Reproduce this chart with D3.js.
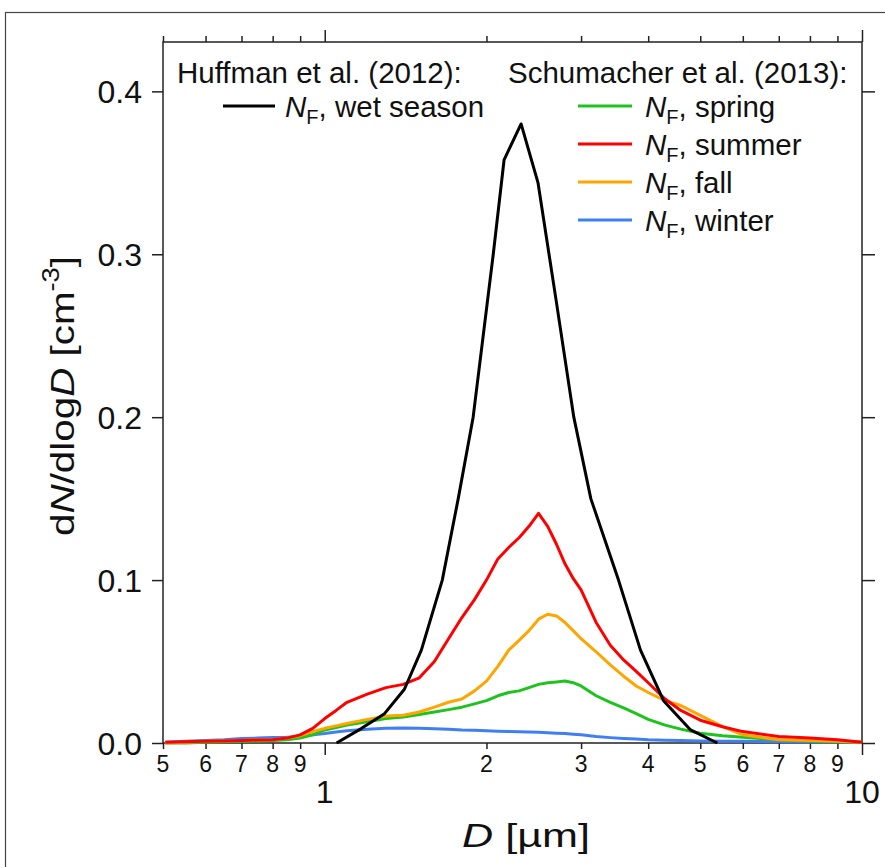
<!DOCTYPE html>
<html><head><meta charset="utf-8">
<script src="https://cdn.jsdelivr.net/npm/d3@7"></script>
<style>
html,body{margin:0;padding:0;background:#fff;}
svg{display:block;font-family:"Liberation Sans",Arial,sans-serif;}
</style></head>
<body>
<svg id="chart" width="885" height="867"></svg>
<script>
// ---------------- DATA ----------------
const seriesNames = ["wet season","spring","summer","fall","winter"];
const seriesColors = ["#000000","#1ec31e","#ff0000","#ffa500","#3f7ff2"];

// Huffman et al. (2012), wet season
const wetD = [1.052,1.171,1.292,1.407,1.513,1.655,1.772,1.889,2.059,2.157,2.320,2.494,2.695,2.908,3.128,3.522,3.870,4.272,4.797,5.38];
const wetN = [0.0,0.009,0.018,0.033,0.057,0.100,0.150,0.200,0.300,0.358,0.380,0.344,0.272,0.200,0.150,0.100,0.057,0.026,0.008,0.0];

// Schumacher et al. (2013)
const sD = [0.505,0.55,0.6,0.65,0.7,0.75,0.8,0.85,0.9,0.95,1.0,1.05,1.1,1.2,1.3,1.4,1.5,1.6,1.7,1.8,1.9,2.0,2.1,2.2,2.3,2.4,2.5,2.6,2.7,2.8,2.9,3.0,3.2,3.4,3.6,3.8,4.0,4.3,4.6,5.0,5.5,6.0,7.0,8.0,9.0,10.0];
const springN = [0.0,0.0,0.0005,0.0008,0.001,0.0012,0.0015,0.002,0.003,0.005,0.008,0.0095,0.011,0.013,0.015,0.016,0.0175,0.019,0.0205,0.022,0.024,0.026,0.029,0.031,0.032,0.034,0.036,0.037,0.0375,0.038,0.037,0.035,0.029,0.025,0.0215,0.018,0.0145,0.011,0.0085,0.006,0.0045,0.0035,0.002,0.0012,0.0008,0.0005];
const summerN = [0.0005,0.0007,0.001,0.0012,0.0015,0.0018,0.002,0.003,0.005,0.009,0.015,0.020,0.025,0.030,0.034,0.036,0.040,0.050,0.064,0.077,0.088,0.100,0.113,0.120,0.126,0.133,0.141,0.133,0.122,0.110,0.101,0.094,0.074,0.060,0.051,0.044,0.037,0.027,0.020,0.014,0.010,0.007,0.004,0.003,0.002,0.0005];
const fallN = [0.0,0.0005,0.001,0.0012,0.0015,0.0018,0.002,0.003,0.0045,0.007,0.009,0.0105,0.012,0.0145,0.0165,0.017,0.019,0.022,0.025,0.027,0.032,0.038,0.047,0.057,0.063,0.069,0.076,0.079,0.078,0.074,0.069,0.064,0.056,0.048,0.041,0.035,0.031,0.026,0.023,0.017,0.010,0.005,0.002,0.0015,0.001,0.0005];
const winterN = [0.0005,0.001,0.0015,0.002,0.0028,0.003,0.0033,0.0035,0.004,0.005,0.0058,0.0068,0.0075,0.0085,0.009,0.0092,0.009,0.0088,0.0085,0.008,0.0078,0.0075,0.0072,0.007,0.0069,0.0068,0.0066,0.0063,0.006,0.0058,0.0054,0.005,0.004,0.0033,0.0028,0.0024,0.002,0.0017,0.0015,0.0012,0.0011,0.001,0.0008,0.0006,0.0006,0.0005];

const yTicks = [0.0,0.1,0.2,0.3,0.4];
const xMinorTicks = [0.5,0.6,0.7,0.8,0.9,2,3,4,5,6,7,8,9];
const xMajorTicks = [1,10];

// ---------------- DRAW ----------------
const svg = d3.select("#chart");
const L=163, R=862, T=42, B=743;
const x = d3.scaleLog().domain([0.5,10]).range([L,R]);
const y = d3.scaleLinear().domain([0,0.4303]).range([B,T]);

// outer frame
svg.append("rect").attr("x",5.5).attr("y",12.5).attr("width",900).attr("height",900)
  .attr("fill","none").attr("stroke","#444").attr("stroke-width",1.2);

const axisColor="#222";
function styleAxis(g){
  g.select(".domain").remove();
  g.selectAll("line").attr("stroke",axisColor).attr("stroke-width",1.5);
}
// bottom
svg.append("g").attr("transform",`translate(0,${B})`)
  .call(d3.axisBottom(x).tickValues(xMinorTicks).tickSize(6).tickFormat(""))
  .call(styleAxis);
svg.append("g").attr("transform",`translate(0,${B})`)
  .call(d3.axisBottom(x).tickValues(xMajorTicks).tickSize(12).tickFormat(""))
  .call(styleAxis);
// top
svg.append("g").attr("transform",`translate(0,${T})`)
  .call(d3.axisTop(x).tickValues(xMinorTicks).tickSize(6).tickFormat(""))
  .call(styleAxis);
svg.append("g").attr("transform",`translate(0,${T})`)
  .call(d3.axisTop(x).tickValues(xMajorTicks).tickSize(12).tickFormat(""))
  .call(styleAxis);
// left / right
svg.append("g").attr("transform",`translate(${L},0)`)
  .call(d3.axisLeft(y).tickValues(yTicks).tickSize(11).tickFormat(""))
  .call(styleAxis);
svg.append("g").attr("transform",`translate(${R},0)`)
  .call(d3.axisRight(y).tickValues(yTicks).tickSize(13).tickFormat(""))
  .call(styleAxis);

// frame of plot
svg.append("rect").attr("x",L).attr("y",T).attr("width",R-L).attr("height",B-T)
  .attr("fill","none").attr("stroke",axisColor).attr("stroke-width",1.5);

// tick labels
svg.append("g").selectAll("text").data(xMinorTicks).join("text")
  .attr("x",d=>x(d)).attr("y",B+29).attr("text-anchor","middle")
  .attr("font-size",23).attr("fill","#111")
  .text(d=>d<1?Math.round(d*10):d);
svg.append("g").selectAll("text").data(xMajorTicks).join("text")
  .attr("x",d=>x(d)).attr("y",B+60).attr("text-anchor","middle")
  .attr("font-size",32).attr("fill","#111")
  .text(d=>d);
svg.append("g").selectAll("text").data(yTicks).join("text")
  .attr("x",L-21).attr("y",d=>y(d)+11.5).attr("text-anchor","end")
  .attr("font-size",32).attr("fill","#111")
  .text(d=>d.toFixed(1));

// axis titles
const xt = svg.append("text").attr("x",526).attr("y",847).attr("text-anchor","middle")
  .attr("font-size",34).attr("fill","#111")
  .attr("textLength",128).attr("lengthAdjust","spacingAndGlyphs");
xt.append("tspan").attr("font-style","italic").text("D");
xt.append("tspan").text(" [µm]");

const yt = svg.append("text").attr("transform","translate(74,396) rotate(-90)")
  .attr("text-anchor","middle").attr("font-size",34).attr("fill","#111")
  .attr("textLength",280).attr("lengthAdjust","spacingAndGlyphs");
yt.append("tspan").text("d");
yt.append("tspan").attr("font-style","italic").text("N");
yt.append("tspan").text("/dlog");
yt.append("tspan").attr("font-style","italic").text("D");
yt.append("tspan").text(" [cm");
yt.append("tspan").attr("font-size",23).attr("dy",-15).text("-3");
yt.append("tspan").attr("dy",15).text("]");

// curves
const line = d3.line().x(d=>x(d[0])).y(d=>y(d[1]));
const curves = [
  {name:"winter", D:sD, N:winterN, color:seriesColors[4]},
  {name:"spring", D:sD, N:springN, color:seriesColors[1]},
  {name:"fall", D:sD, N:fallN, color:seriesColors[3]},
  {name:"summer", D:sD, N:summerN, color:seriesColors[2]},
  {name:"wet season", D:wetD, N:wetN, color:seriesColors[0]},
];
svg.append("g").selectAll("path").data(curves).join("path")
  .attr("d",c=>line(c.D.map((d,i)=>[d,c.N[i]])))
  .attr("fill","none").attr("stroke",c=>c.color).attr("stroke-width",3)
  .attr("stroke-linejoin","round");

// legend
const lg = svg.append("g").attr("font-size",29.5).attr("fill","#111");
lg.append("text").attr("x",177).attr("y",83).text("Huffman et al. (2012):");
lg.append("text").attr("x",508).attr("y",83).text("Schumacher et al. (2013):");
function legRow(x1,x2,tx,yy,color,label){
  lg.append("line").attr("x1",x1).attr("x2",x2).attr("y1",yy).attr("y2",yy)
    .attr("stroke",color).attr("stroke-width",3);
  const t = lg.append("text").attr("x",tx).attr("y",yy+11);
  t.append("tspan").attr("font-style","italic").text("N");
  t.append("tspan").attr("font-size",20).attr("dy",7).text("F");
  t.append("tspan").attr("dy",-7).text(", "+label);
}
legRow(223,275,285,106,seriesColors[0],seriesNames[0]);
[1,2,3,4].forEach((k,i)=>legRow(578,632,645,106+38*i,seriesColors[k],seriesNames[k]));
</script>
</body></html>
